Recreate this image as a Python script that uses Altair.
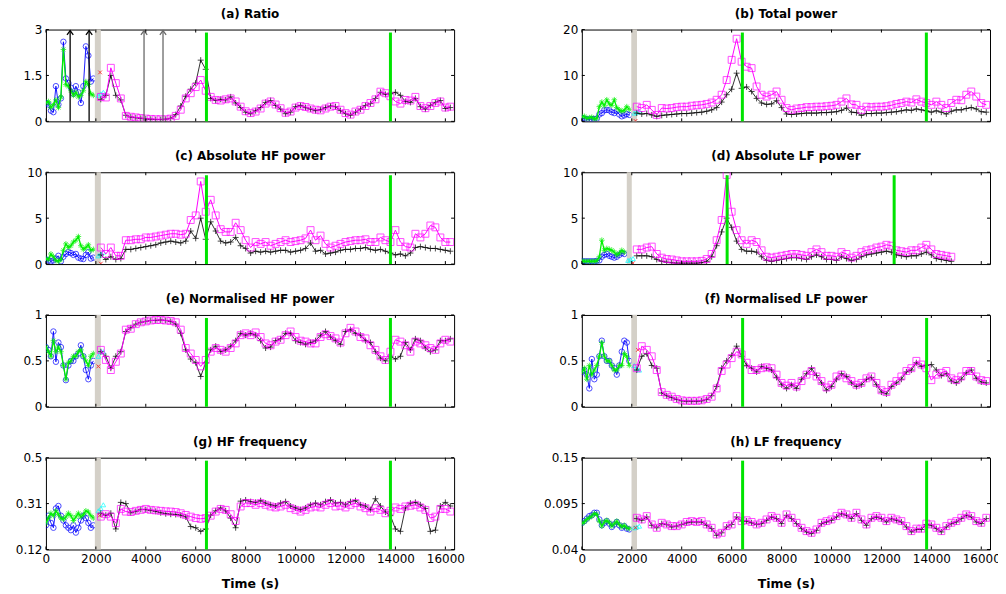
import altair as alt
import pandas as pd

# ---------------- time grids and ticks ----------------
T_EARLY = list(range(0, 2000, 100))
T_EARLY_D = list(range(0, 1800, 100))
T_MAIN = list(range(2200, 16201, 200))
T_MAIN_D = list(range(2200, 14801, 200))
X_TICKS = [0, 2000, 4000, 6000, 8000, 10000, 12000, 14000, 16000]
X_MAX = 16350

# ---------------- (a) Ratio ----------------
A_BLUE = [0.60, 0.55, 0.35, 0.30, 1.15, 0.55, 0.75, 2.60, 1.40, 1.25, 1.10, 0.90, 1.15, 0.95, 0.60, 1.15, 2.45, 2.15, 1.30, 1.40]
A_GREEN = [0.60, 0.65, 0.45, 0.55, 0.70, 0.45, 0.80, 2.35, 1.20, 1.15, 1.00, 0.85, 0.95, 0.80, 0.85, 1.00, 1.30, 1.20, 0.90, 0.85]
A_MAG = [0.80, 0.78, 1.75, 1.25, 0.75, 0.18, 0.15, 0.13, 0.11, 0.09,
         0.08, 0.07, 0.07, 0.07, 0.09, 0.18, 0.38, 0.75, 0.92, 1.12,
         1.35, 1.00, 0.80, 0.70, 0.68, 0.72, 0.75, 0.65, 0.48, 0.33,
         0.27, 0.32, 0.42, 0.58, 0.65, 0.55, 0.43, 0.28, 0.32, 0.45,
         0.50, 0.47, 0.42, 0.38, 0.36, 0.42, 0.48, 0.50, 0.38, 0.27,
         0.22, 0.32, 0.38, 0.50, 0.60, 0.72, 0.97, 0.92, 0.82, 0.65,
         0.58, 0.70, 0.68, 0.80, 0.50, 0.43, 0.50, 0.60, 0.65, 0.45,
         0.48]
A_BLACK = [0.72, 0.85, 1.50, 0.85, 0.70, 0.20, 0.14, 0.12, 0.10, 0.08,
           0.07, 0.06, 0.06, 0.07, 0.10, 0.22, 0.50, 0.82, 1.05, 1.25,
           2.00, 1.70, 0.75, 0.68, 0.72, 0.70, 0.80, 0.60, 0.45, 0.30,
           0.25, 0.35, 0.45, 0.62, 0.68, 0.52, 0.40, 0.25, 0.30, 0.48,
           0.52, 0.45, 0.40, 0.35, 0.38, 0.45, 0.50, 0.48, 0.35, 0.25,
           0.20, 0.30, 0.40, 0.52, 0.58, 0.75, 0.95, 0.88, 0.90, 0.95,
           0.85, 0.65, 0.62, 0.75, 0.48, 0.40, 0.52, 0.62, 0.68, 0.42,
           0.45]
A_ARROWS_BLACK = [970, 1730]
A_ARROWS_GRAY = [3930, 4690]

# ---------------- (b) Total power ----------------
B_BLUE = [0.7, 0.6, 0.5, 0.4, 0.5, 0.5, 0.6, 1.5, 1.8, 2.4, 2.5, 2.4, 2.0, 1.8, 2.2, 1.5, 1.1, 1.3, 1.6, 1.4]
B_GREEN = [1.0, 1.1, 0.6, 0.8, 0.9, 0.5, 0.7, 3.2, 4.2, 3.4, 4.7, 3.8, 3.5, 4.7, 3.0, 2.5, 2.2, 2.4, 3.2, 2.6]
B_MAG = [3.2, 2.9, 3.6, 2.5, 1.4, 2.9, 2.8, 2.9, 3.1, 3.2,
         3.2, 3.4, 3.5, 3.6, 3.8, 4.1, 4.7, 5.8, 9.0, 13.4,
         18.0, 13.0, 11.9, 11.6, 7.6, 5.8, 5.4, 5.8, 6.5, 4.7,
         2.9, 2.5, 2.8, 2.9, 3.1, 3.1, 3.2, 3.2, 3.3, 3.4,
         3.6, 4.3, 5.0, 3.7, 3.6, 2.5, 3.2, 3.1, 3.2, 3.2,
         3.3, 3.5, 3.8, 4.0, 4.3, 4.1, 4.8, 4.3, 4.0, 3.6,
         4.3, 3.6, 2.9, 4.0, 4.7, 4.6, 5.8, 6.5, 5.4, 4.0,
         3.6]
B_BLACK = [1.8, 1.6, 1.7, 1.4, 1.1, 1.3, 1.4, 1.5, 1.6, 1.7,
           1.7, 1.8, 1.9, 2.0, 2.2, 2.5, 3.0, 4.2, 5.8, 7.0,
           10.5, 7.2, 7.5, 6.5, 5.0, 4.0, 3.7, 3.8, 4.5, 3.0,
           1.6, 1.5, 1.6, 1.7, 1.8, 1.8, 1.8, 1.9, 1.9, 2.0,
           2.1, 2.4, 2.9, 2.0, 1.9, 1.3, 1.7, 1.7, 1.8, 1.8,
           1.9, 2.0, 2.1, 2.3, 2.5, 2.4, 2.7, 2.5, 2.3, 2.0,
           2.3, 2.0, 1.6, 2.2, 2.5, 2.5, 2.8, 3.0, 2.7, 2.1,
           2.0]

# ---------------- (c) Absolute HF power ----------------
C_BLUE = [0.5, 0.4, 0.3, 0.4, 0.6, 0.9, 0.3, 0.8, 1.1, 1.3, 1.2, 1.0, 1.1, 0.7, 0.6, 0.55, 1.0, 1.3, 0.6, 0.7]
C_GREEN = [0.6, 0.5, 1.1, 0.8, 0.4, 0.3, 0.5, 1.5, 2.2, 1.8, 2.0, 2.4, 2.6, 3.0, 2.0, 1.6, 1.8, 2.1, 1.5, 1.6]
C_MAG = [1.8, 1.1, 1.8, 0.9, 0.9, 2.6, 2.6, 2.7, 2.7, 2.9,
         2.9, 3.0, 3.1, 3.2, 3.3, 3.3, 3.2, 3.3, 4.8, 5.3,
         9.0, 5.7, 7.0, 5.3, 3.8, 3.5, 3.5, 4.5, 3.7, 2.6,
         1.8, 2.4, 2.2, 2.4, 2.0, 2.2, 2.4, 2.6, 2.4, 2.5,
         2.6, 2.8, 3.7, 2.6, 3.1, 2.2, 1.8, 2.0, 2.2, 2.4,
         2.5, 2.6, 2.6, 2.7, 2.4, 2.4, 2.9, 2.6, 2.4, 3.7,
         2.4, 1.9, 1.8, 3.3, 2.9, 3.3, 4.2, 4.0, 2.9, 2.4,
         2.4]
C_BLACK = [1.0, 0.5, 0.8, 0.5, 0.6, 1.6, 1.6, 1.7, 1.8, 1.9,
           2.0, 2.1, 2.3, 2.4, 2.5, 2.4, 2.3, 2.5, 3.6, 2.8,
           5.0, 2.7, 4.6, 3.6, 2.5, 2.3, 2.4, 2.9, 2.0, 1.7,
           1.2, 1.4, 1.3, 1.4, 1.3, 1.4, 1.5, 1.5, 1.3, 1.4,
           1.5, 1.7, 2.3, 1.4, 1.5, 1.1, 1.2, 1.3, 1.5, 1.6,
           1.6, 1.7, 1.7, 1.8, 1.6, 1.5, 1.6, 1.4, 1.2, 1.0,
           1.1, 0.9, 1.2, 1.8, 1.9, 1.8, 1.7, 1.7, 1.6, 1.5,
           1.4]

# ---------------- (d) Absolute LF power ----------------
D_BLUE = [0.3, 0.3, 0.3, 0.3, 0.3, 0.3, 0.35, 0.4, 0.8, 1.0, 1.1, 0.9, 0.8, 0.7, 0.8, 1.0, 1.2, 1.1]
D_GREEN = [0.35, 0.3, 0.3, 0.3, 0.3, 0.3, 0.35, 0.8, 2.6, 1.5, 1.7, 1.6, 1.5, 1.3, 1.0, 1.2, 1.5, 1.3]
D_MAG = [1.6, 1.6, 1.8, 1.9, 1.1, 0.7, 0.55, 0.5, 0.4, 0.3,
         0.3, 0.3, 0.3, 0.35, 0.55, 1.1, 2.6, 4.8, 9.7, 5.7,
         3.7, 2.6, 2.2, 2.6, 2.4, 1.5, 0.8, 0.7, 0.8, 0.9,
         1.0, 1.1, 1.1, 1.0, 0.9, 1.3, 1.6, 1.3, 0.9, 0.9,
         0.8, 1.3, 1.1, 0.7, 0.9, 1.3, 1.5, 1.6, 1.8, 1.9,
         2.1, 2.0, 1.5, 1.4, 1.3, 1.5, 1.5, 1.8, 2.1, 1.6,
         1.1, 1.0, 0.9, 0.8]
D_BLACK = [0.9, 0.9, 0.9, 0.8, 0.5, 0.3, 0.2, 0.15, 0.1, 0.1,
           0.1, 0.1, 0.1, 0.15, 0.3, 0.8, 2.0, 3.5, 5.0, 4.0,
           2.5, 1.6, 1.4, 1.4, 1.3, 0.8, 0.4, 0.3, 0.4, 0.5,
           0.6, 0.7, 0.7, 0.6, 0.5, 0.8, 1.0, 0.8, 0.5, 0.5,
           0.4, 0.8, 0.6, 0.4, 0.5, 0.8, 1.0, 1.1, 1.2, 1.3,
           1.4, 1.3, 1.0, 0.9, 0.8, 0.9, 0.9, 1.1, 1.3, 1.0,
           0.6, 0.5, 0.4, 0.3]

# ---------------- (e) Normalised HF power ----------------
E_BLUE = [0.65, 0.62, 0.55, 0.82, 0.49, 0.70, 0.65, 0.45, 0.29, 0.45, 0.50, 0.50, 0.55, 0.58, 0.67, 0.55, 0.40, 0.30, 0.45, 0.50]
E_GREEN = [0.65, 0.60, 0.55, 0.72, 0.60, 0.65, 0.60, 0.45, 0.30, 0.48, 0.50, 0.55, 0.55, 0.60, 0.62, 0.55, 0.50, 0.45, 0.55, 0.58]
E_MAG = [0.62, 0.51, 0.40, 0.49, 0.58, 0.84, 0.85, 0.90, 0.92, 0.93,
         0.94, 0.945, 0.945, 0.94, 0.935, 0.92, 0.84, 0.64, 0.58, 0.51,
         0.44, 0.51, 0.60, 0.64, 0.62, 0.60, 0.64, 0.69, 0.78, 0.80,
         0.78, 0.81, 0.76, 0.69, 0.67, 0.71, 0.73, 0.78, 0.82, 0.76,
         0.72, 0.71, 0.69, 0.69, 0.76, 0.79, 0.77, 0.745, 0.70, 0.80,
         0.86, 0.82, 0.76, 0.745, 0.67, 0.62, 0.55, 0.51, 0.60, 0.73,
         0.71, 0.67, 0.60, 0.71, 0.69, 0.67, 0.64, 0.62, 0.69, 0.73,
         0.71]
E_BLACK = [0.60, 0.55, 0.42, 0.55, 0.60, 0.82, 0.86, 0.90, 0.92, 0.93,
           0.94, 0.94, 0.945, 0.94, 0.93, 0.90, 0.80, 0.62, 0.52, 0.48,
           0.33, 0.48, 0.62, 0.66, 0.60, 0.62, 0.66, 0.72, 0.80, 0.78,
           0.80, 0.78, 0.72, 0.64, 0.65, 0.72, 0.74, 0.80, 0.80, 0.72,
           0.70, 0.68, 0.70, 0.72, 0.78, 0.82, 0.76, 0.72, 0.68, 0.82,
           0.84, 0.80, 0.78, 0.72, 0.70, 0.60, 0.53, 0.50, 0.55, 0.52,
           0.55, 0.70, 0.62, 0.74, 0.72, 0.64, 0.60, 0.62, 0.72, 0.72,
           0.74]

# ---------------- (f) Normalised LF power ----------------
F_BLUE = [0.38, 0.40, 0.35, 0.20, 0.52, 0.30, 0.35, 0.55, 0.72, 0.55, 0.50, 0.50, 0.45, 0.42, 0.35, 0.45, 0.60, 0.72, 0.70, 0.50]
F_GREEN = [0.38, 0.42, 0.30, 0.45, 0.35, 0.40, 0.45, 0.55, 0.70, 0.55, 0.50, 0.50, 0.45, 0.40, 0.40, 0.45, 0.45, 0.58, 0.55, 0.45]
F_MAG = [0.42, 0.66, 0.62, 0.55, 0.40, 0.16, 0.13, 0.11, 0.085, 0.07,
         0.065, 0.065, 0.065, 0.07, 0.085, 0.11, 0.20, 0.39, 0.46, 0.53,
         0.60, 0.57, 0.48, 0.40, 0.40, 0.42, 0.43, 0.42, 0.35, 0.26,
         0.23, 0.26, 0.22, 0.28, 0.35, 0.39, 0.33, 0.28, 0.21, 0.24,
         0.33, 0.35, 0.31, 0.28, 0.24, 0.26, 0.31, 0.33, 0.26, 0.18,
         0.16, 0.24, 0.28, 0.33, 0.39, 0.42, 0.50, 0.46, 0.42, 0.29,
         0.35, 0.37, 0.39, 0.31, 0.29, 0.33, 0.39, 0.39, 0.33, 0.29,
         0.28]
F_BLACK = [0.40, 0.55, 0.58, 0.45, 0.42, 0.15, 0.12, 0.10, 0.08, 0.065,
           0.06, 0.06, 0.06, 0.065, 0.08, 0.12, 0.22, 0.42, 0.50, 0.56,
           0.66, 0.55, 0.45, 0.42, 0.38, 0.44, 0.42, 0.40, 0.32, 0.24,
           0.20, 0.24, 0.20, 0.30, 0.36, 0.42, 0.34, 0.26, 0.18, 0.22,
           0.30, 0.36, 0.33, 0.26, 0.22, 0.24, 0.30, 0.32, 0.24, 0.16,
           0.14, 0.22, 0.26, 0.30, 0.38, 0.40, 0.48, 0.44, 0.45, 0.46,
           0.40, 0.34, 0.36, 0.28, 0.26, 0.30, 0.37, 0.40, 0.31, 0.27,
           0.26]

# ---------------- (g) HF frequency ----------------
G_BLUE = [0.22, 0.26, 0.23, 0.21, 0.29, 0.30, 0.26, 0.24, 0.22, 0.21, 0.20, 0.22, 0.19, 0.21, 0.24, 0.26, 0.25, 0.23, 0.21, 0.22]
G_GREEN = [0.23, 0.25, 0.27, 0.26, 0.28, 0.265, 0.25, 0.245, 0.255, 0.27, 0.26, 0.24, 0.255, 0.27, 0.255, 0.265, 0.28, 0.275, 0.26, 0.25]
G_MAG = [0.256, 0.266, 0.256, 0.229, 0.288, 0.277, 0.275, 0.280, 0.284, 0.288,
         0.284, 0.282, 0.280, 0.278, 0.277, 0.275, 0.270, 0.263, 0.256, 0.250,
         0.247, 0.250, 0.260, 0.277, 0.288, 0.284, 0.266, 0.238, 0.298, 0.312,
         0.312, 0.305, 0.312, 0.305, 0.298, 0.294, 0.298, 0.305, 0.291, 0.284,
         0.277, 0.284, 0.294, 0.298, 0.294, 0.305, 0.312, 0.298, 0.301, 0.294,
         0.305, 0.312, 0.298, 0.291, 0.277, 0.291, 0.284, 0.270, 0.280, 0.294,
         0.288, 0.298, 0.301, 0.305, 0.294, 0.284, 0.250, 0.256, 0.288, 0.288,
         0.277]
G_BLACK = [0.270, 0.262, 0.270, 0.205, 0.315, 0.310, 0.272, 0.278, 0.286, 0.285,
           0.282, 0.278, 0.272, 0.268, 0.266, 0.265, 0.262, 0.255, 0.215, 0.210,
           0.195, 0.205, 0.262, 0.280, 0.292, 0.280, 0.250, 0.210, 0.320, 0.325,
           0.318, 0.315, 0.322, 0.312, 0.305, 0.300, 0.312, 0.318, 0.300, 0.292,
           0.285, 0.292, 0.305, 0.312, 0.305, 0.318, 0.325, 0.312, 0.315, 0.305,
           0.318, 0.322, 0.305, 0.300, 0.285, 0.330, 0.300, 0.275, 0.260, 0.205,
           0.195, 0.292, 0.312, 0.315, 0.305, 0.290, 0.195, 0.200, 0.300, 0.315,
           0.300]

# ---------------- (h) LF frequency ----------------
H_BLUE = [0.072, 0.074, 0.077, 0.080, 0.081, 0.084, 0.084, 0.076, 0.069, 0.072, 0.074, 0.071, 0.067, 0.070, 0.073, 0.069, 0.066, 0.068, 0.065, 0.064]
H_GREEN = [0.071, 0.073, 0.076, 0.078, 0.080, 0.083, 0.082, 0.074, 0.068, 0.073, 0.075, 0.072, 0.068, 0.071, 0.074, 0.070, 0.067, 0.069, 0.066, 0.065]
H_MAG = [0.078, 0.076, 0.080, 0.070, 0.066, 0.072, 0.070, 0.068, 0.068, 0.070,
         0.073, 0.074, 0.073, 0.074, 0.070, 0.066, 0.058, 0.060, 0.068, 0.070,
         0.080, 0.074, 0.075, 0.073, 0.070, 0.072, 0.076, 0.080, 0.078, 0.072,
         0.082, 0.078, 0.072, 0.066, 0.062, 0.060, 0.064, 0.072, 0.074, 0.076,
         0.080, 0.084, 0.082, 0.078, 0.084, 0.076, 0.070, 0.078, 0.080, 0.078,
         0.074, 0.078, 0.076, 0.074, 0.068, 0.062, 0.065, 0.065, 0.071, 0.070,
         0.066, 0.062, 0.068, 0.072, 0.074, 0.078, 0.082, 0.080, 0.074, 0.072,
         0.078]
H_BLACK = [0.077, 0.075, 0.079, 0.069, 0.066, 0.071, 0.070, 0.067, 0.068, 0.070,
           0.072, 0.073, 0.073, 0.073, 0.069, 0.065, 0.057, 0.060, 0.067, 0.070,
           0.079, 0.074, 0.074, 0.072, 0.070, 0.071, 0.075, 0.079, 0.077, 0.071,
           0.081, 0.077, 0.071, 0.065, 0.061, 0.059, 0.063, 0.071, 0.073, 0.075,
           0.079, 0.083, 0.081, 0.077, 0.083, 0.075, 0.069, 0.077, 0.079, 0.077,
           0.073, 0.077, 0.075, 0.073, 0.067, 0.061, 0.064, 0.064, 0.070, 0.069,
           0.065, 0.061, 0.067, 0.071, 0.073, 0.077, 0.081, 0.079, 0.073, 0.071,
           0.077]

# ---------------- small cyan / red segments, bands, event lines ----------------
CYAN_T = [2100, 2200, 2300]
CYAN_T_D = [1850, 1950, 2050]
PANELS = [
    dict(key="a", title="(a) Ratio", ymin=0, ymax=3, yticks=[0, 1.5, 3],
         te=T_EARLY, blue=A_BLUE, green=A_GREEN, tm=T_MAIN, black=A_BLACK, mag=A_MAG,
         cyan_t=CYAN_T, cyan=[0.85, 0.9, 0.95], red_t=[2170], red=[1.6],
         band=[1960, 2200], vlines=[6430, 13800]),
    dict(key="b", title="(b) Total power", ymin=0, ymax=20, yticks=[0, 10, 20],
         te=T_EARLY, blue=B_BLUE, green=B_GREEN, tm=T_MAIN, black=B_BLACK, mag=B_MAG,
         cyan_t=CYAN_T, cyan=[1.8, 2.0, 2.2], red_t=[2150], red=[0.1],
         band=[1980, 2210], vlines=[6430, 13800]),
    dict(key="c", title="(c) Absolute HF power", ymin=0, ymax=10, yticks=[0, 5, 10],
         te=T_EARLY, blue=C_BLUE, green=C_GREEN, tm=T_MAIN, black=C_BLACK, mag=C_MAG,
         cyan_t=CYAN_T, cyan=[0.9, 1.1, 1.3], red_t=[2200], red=[0.05],
         band=[1960, 2200], vlines=[6430, 13800]),
    dict(key="d", title="(d) Absolute LF power", ymin=0, ymax=10, yticks=[0, 5, 10],
         te=T_EARLY_D, blue=D_BLUE, green=D_GREEN, tm=T_MAIN_D, black=D_BLACK, mag=D_MAG,
         cyan_t=CYAN_T_D, cyan=[0.4, 0.5, 0.6], red_t=[2050], red=[0.1],
         band=[1800, 2000], vlines=[5820, 12510]),
    dict(key="e", title="(e) Normalised HF power", ymin=0, ymax=1, yticks=[0, 0.5, 1],
         te=T_EARLY, blue=E_BLUE, green=E_GREEN, tm=T_MAIN, black=E_BLACK, mag=E_MAG,
         cyan_t=CYAN_T, cyan=[0.55, 0.6, 0.6], red_t=[2100], red=[0.44],
         band=[1960, 2200], vlines=[6430, 13800]),
    dict(key="f", title="(f) Normalised LF power", ymin=0, ymax=1, yticks=[0, 0.5, 1],
         te=T_EARLY, blue=F_BLUE, green=F_GREEN, tm=T_MAIN, black=F_BLACK, mag=F_MAG,
         cyan_t=CYAN_T, cyan=[0.45, 0.42, 0.4], red_t=[2250], red=[0.62],
         band=[1980, 2210], vlines=[6440, 13810]),
    dict(key="g", title="(g) HF frequency", ymin=0.12, ymax=0.5, yticks=[0.12, 0.31, 0.5],
         te=T_EARLY, blue=G_BLUE, green=G_GREEN, tm=T_MAIN, black=G_BLACK, mag=G_MAG,
         cyan_t=CYAN_T, cyan=[0.28, 0.29, 0.305], red_t=[2150], red=[0.26],
         band=[1960, 2200], vlines=[6430, 13800]),
    dict(key="h", title="(h) LF frequency", ymin=0.04, ymax=0.15, yticks=[0.04, 0.095, 0.15],
         te=T_EARLY, blue=H_BLUE, green=H_GREEN, tm=T_MAIN, black=H_BLACK, mag=H_MAG,
         cyan_t=CYAN_T, cyan=[0.066, 0.067, 0.068], red_t=[2150], red=[0.066],
         band=[1990, 2210], vlines=[6440, 13810]),
]

# ---------------- style ----------------
W, H = 409, 92
FONT = "DejaVu Sans"
BLUE, GREEN, MAGENTA, BLACK = "#0000FF", "#00F000", "#FF00FF", "#000000"
CYAN, RED, BAND, VLINE, ARROW_GRAY = "#00FFFF", "#FF0000", "#D4D0C8", "#00E400", "#6A6A6A"
STAR = "M-1,0L1,0M0,-1L0,1M-0.7,-0.7L0.7,0.7M-0.7,0.7L0.7,-0.7"
PLUS = "M-1,0L1,0M0,-1L0,1"
XMARK = "M-1,-1L1,1M-1,1L1,-1"
HEAD = "M-0.6,0.85L0,0L0.6,0.85"
LABEL_EXPR = "'' + datum.value"


def panel(p, bottom):
    xs = alt.Scale(domain=[0, X_MAX], nice=False, zero=False)
    ys = alt.Scale(domain=[p["ymin"], p["ymax"]], nice=False, zero=False)
    if bottom:
        xaxis = alt.Axis(values=X_TICKS, labelExpr=LABEL_EXPR, title="Time (s)", titleFontWeight="bold",
                         titleFontSize=12.5, titlePadding=13, labelFlush=False, labelOverlap=False)
    else:
        xaxis = None
    yaxis = alt.Axis(values=p["yticks"], labelExpr=LABEL_EXPR, title=None, labelFlush=False, labelOverlap=False)

    def X(f="t"):
        return alt.X(f"{f}:Q", scale=xs, axis=xaxis)

    def Y(f="v"):
        return alt.Y(f"{f}:Q", scale=ys, axis=yaxis)

    early = pd.DataFrame({"t": p["te"], "blue": p["blue"], "green": p["green"]})
    main = pd.DataFrame({"t": p["tm"], "black": p["black"], "mag": p["mag"]})
    cyan = pd.DataFrame({"t": p["cyan_t"], "v": p["cyan"]})
    red = pd.DataFrame({"t": p["red_t"], "v": p["red"]})
    band = pd.DataFrame({"t": [p["band"][0]], "t2": [p["band"][1]]})
    vl = pd.DataFrame({"t": p["vlines"]})
    xt = pd.DataFrame({"t": X_TICKS})
    yt = pd.DataFrame({"v": p["yticks"]})

    layers = [
        alt.Chart(early).mark_line(color=BLUE, strokeWidth=0.9, clip=True).encode(x=X(), y=Y("blue")),
        alt.Chart(early).mark_point(shape="circle", filled=False, color=BLUE, size=30, strokeWidth=1, clip=True).encode(x=X(), y=Y("blue")),
        alt.Chart(early).mark_line(color=GREEN, strokeWidth=1.3, clip=True).encode(x=X(), y=Y("green")),
        alt.Chart(early).mark_point(shape=STAR, filled=False, color=GREEN, size=32, strokeWidth=1, clip=True).encode(x=X(), y=Y("green")),
        alt.Chart(band).mark_rect(color=BAND).encode(x=X("t"), x2=alt.X2("t2:Q"), y=alt.value(0), y2=alt.value(H)),
        alt.Chart(cyan).mark_point(shape="triangle-up", filled=False, color=CYAN, size=22, strokeWidth=1, clip=True).encode(x=X(), y=Y("v")),
        alt.Chart(red).mark_point(shape=XMARK, filled=False, color=RED, size=14, strokeWidth=1, clip=True).encode(x=X(), y=Y("v")),
        alt.Chart(main).mark_line(color=BLACK, strokeWidth=0.8, clip=True).encode(x=X(), y=Y("black")),
        alt.Chart(main).mark_point(shape=PLUS, filled=False, color=BLACK, size=36, strokeWidth=1, clip=True).encode(x=X(), y=Y("black")),
        alt.Chart(main).mark_line(color=MAGENTA, strokeWidth=1, clip=True).encode(x=X(), y=Y("mag")),
        alt.Chart(main).mark_point(shape="square", filled=False, color=MAGENTA, size=48, strokeWidth=1, clip=True).encode(x=X(), y=Y("mag")),
        alt.Chart(vl).mark_rule(color=VLINE, strokeWidth=3).encode(x=X(), y=alt.value(3), y2=alt.value(H)),
    ]
    if p["key"] == "a":
        for ts, col in ((A_ARROWS_BLACK, BLACK), (A_ARROWS_GRAY, ARROW_GRAY)):
            ad = pd.DataFrame({"t": ts})
            layers.append(alt.Chart(ad).mark_rule(color=col, strokeWidth=1.3).encode(x=X(), y=alt.value(1), y2=alt.value(H)))
            layers.append(alt.Chart(ad).mark_point(shape=HEAD, filled=False, color=col, size=110, strokeWidth=1.3, opacity=1).encode(x=X(), y=alt.value(1)))
    layers += [
        alt.Chart(xt).mark_rule(color="black", strokeWidth=1).encode(x=X(), y=alt.value(H), y2=alt.value(H - 3)),
        alt.Chart(xt).mark_rule(color="black", strokeWidth=1).encode(x=X(), y=alt.value(0), y2=alt.value(3)),
        alt.Chart(yt).mark_rule(color="black", strokeWidth=1).encode(y=Y(), x=alt.value(0), x2=alt.value(3)),
        alt.Chart(yt).mark_rule(color="black", strokeWidth=1).encode(y=Y(), x=alt.value(W - 3), x2=alt.value(W)),
    ]
    return alt.layer(*layers).properties(
        width=W, height=H,
        title=alt.TitleParams(text=p["title"], fontSize=12, fontWeight="bold", font=FONT,
                              offset=3, anchor="middle", color="black", frame="group"),
    )


rows = []
for i in range(4):
    left, right = PANELS[2 * i], PANELS[2 * i + 1]
    rows.append(alt.hconcat(panel(left, i == 3), panel(right, i == 3), spacing=128, bounds="flush"))

chart = alt.vconcat(*rows, spacing=21).properties(
    padding={"left": 5, "top": -2, "right": -3, "bottom": 0}
).configure_view(stroke="black", strokeWidth=1).configure_axis(
    domain=False, ticks=False, grid=False, labelFont=FONT, labelFontSize=12, labelColor="black",
    labelPadding=4, titleFont=FONT, titleColor="black"
).configure_axisY(minExtent=32, maxExtent=32)

chart.save("out.html", embed_options={"renderer": "svg", "actions": False})
